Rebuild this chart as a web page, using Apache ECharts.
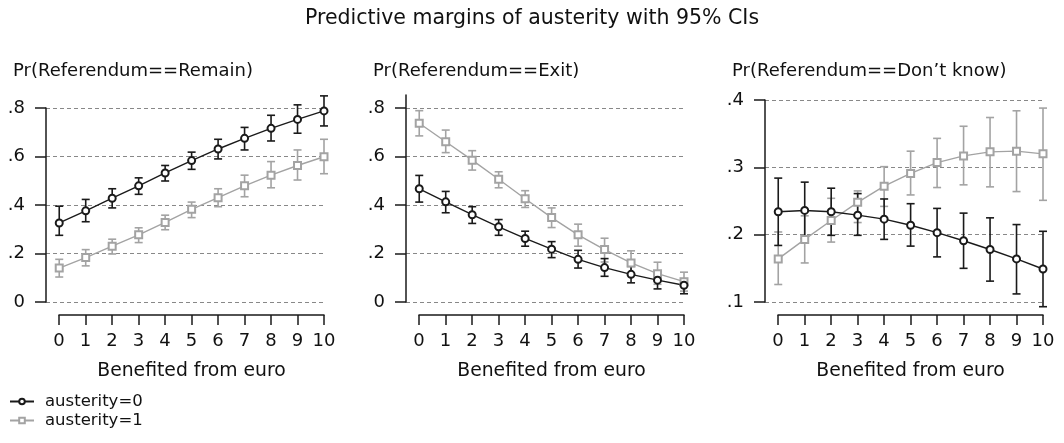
<!DOCTYPE html>
<html>
<head>
<meta charset="utf-8">
<script src="https://cdn.jsdelivr.net/npm/echarts@6/dist/echarts.min.js"></script>
<style>
  html, body { margin: 0; padding: 0; background: #fff; }
  #main { width: 1064px; height: 443px; }
</style>
</head>
<body>
<div id="main"></div>
<script>
var chartDom = document.getElementById('main');
var myChart = echarts.init(chartDom);
var option;

// x categories (Benefited from euro)
var xVals = [0, 1, 2, 3, 4, 5, 6, 7, 8, 9, 10];

// Pr(Referendum==Remain)
var remain0 = [0.326, 0.376, 0.428, 0.479, 0.532, 0.583, 0.631, 0.675, 0.716, 0.753, 0.788];
var remain0Lo = [0.275, 0.331, 0.388, 0.444, 0.499, 0.547, 0.590, 0.627, 0.664, 0.696, 0.726];
var remain0Hi = [0.395, 0.423, 0.467, 0.512, 0.563, 0.618, 0.671, 0.720, 0.770, 0.813, 0.850];
var remain1 = [0.140, 0.183, 0.230, 0.277, 0.328, 0.382, 0.430, 0.479, 0.523, 0.563, 0.599];
var remain1Lo = [0.103, 0.149, 0.198, 0.245, 0.298, 0.348, 0.393, 0.434, 0.471, 0.503, 0.529];
var remain1Hi = [0.176, 0.216, 0.259, 0.306, 0.358, 0.412, 0.467, 0.523, 0.579, 0.627, 0.671];

// Pr(Referendum==Exit)
var exit0 = [0.467, 0.413, 0.360, 0.310, 0.262, 0.218, 0.176, 0.142, 0.114, 0.090, 0.069];
var exit0Lo = [0.412, 0.368, 0.324, 0.275, 0.230, 0.183, 0.140, 0.106, 0.079, 0.054, 0.034];
var exit0Hi = [0.522, 0.456, 0.393, 0.340, 0.292, 0.249, 0.213, 0.179, 0.147, 0.124, 0.096];
var exit1 = [0.737, 0.661, 0.585, 0.506, 0.426, 0.348, 0.277, 0.216, 0.161, 0.117, 0.084];
var exit1Lo = [0.685, 0.616, 0.544, 0.471, 0.390, 0.307, 0.230, 0.165, 0.110, 0.073, 0.045];
var exit1Hi = [0.789, 0.709, 0.624, 0.537, 0.459, 0.388, 0.321, 0.263, 0.211, 0.164, 0.123];

// Pr(Referendum==Don't know)
var dk0 = [0.234, 0.236, 0.234, 0.229, 0.223, 0.214, 0.203, 0.191, 0.178, 0.164, 0.149];
var dk0Lo = [0.184, 0.194, 0.199, 0.199, 0.193, 0.183, 0.167, 0.150, 0.131, 0.112, 0.093];
var dk0Hi = [0.284, 0.278, 0.269, 0.261, 0.253, 0.246, 0.239, 0.232, 0.225, 0.215, 0.205];
var dk1 = [0.164, 0.193, 0.221, 0.248, 0.272, 0.291, 0.307, 0.317, 0.323, 0.324, 0.320];
var dk1Lo = [0.126, 0.158, 0.189, 0.218, 0.242, 0.259, 0.270, 0.274, 0.271, 0.264, 0.251];
var dk1Hi = [0.204, 0.228, 0.254, 0.265, 0.301, 0.324, 0.343, 0.361, 0.374, 0.384, 0.388];

var panelTitles = ['Pr(Referendum==Remain)', 'Pr(Referendum==Exit)', 'Pr(Referendum==Don\u2019t know)'];
var seriesNames = ['austerity=0', 'austerity=1'];
var yRanges = [[0, 0.8, 0.2], [0, 0.8, 0.2], [0.1, 0.4, 0.1]];

var FONT = 'DejaVu Sans';
var BLACK = '#1a1a1a';
var GRAY = '#a3a3a3';

var panelLeft = [46, 406, 765];
var panelTop = [108, 108, 100];

function pairs(ys) {
  return xVals.map(function (x, i) { return [x, ys[i]]; });
}
function ciRows(lo, hi) {
  return xVals.map(function (x, i) { return [x, lo[i], hi[i]]; });
}
function tickFmt(v) {
  if (Math.abs(v) < 1e-9) return '0';
  return String(+v.toFixed(2)).replace(/^0/, '');
}

// error bar with caps
function errRender(params, api) {
  var x = api.value(0);
  var lo = api.coord([x, api.value(1)]);
  var hi = api.coord([x, api.value(2)]);
  var w = 4;
  var style = { stroke: api.visual('color'), lineWidth: 1.6 };
  return {
    type: 'group',
    children: [
      { type: 'line', shape: { x1: lo[0], y1: lo[1], x2: hi[0], y2: hi[1] }, style: style },
      { type: 'line', shape: { x1: lo[0] - w, y1: lo[1], x2: lo[0] + w, y2: lo[1] }, style: style },
      { type: 'line', shape: { x1: hi[0] - w, y1: hi[1], x2: hi[0] + w, y2: hi[1] }, style: style }
    ]
  };
}

var grids = [];
var xAxes = [];
var yAxes = [];
var series = [];
var titles = [{
  text: 'Predictive margins of austerity with 95% CIs',
  left: 'center',
  top: 3,
  textStyle: { fontFamily: FONT, fontSize: 20.5, fontWeight: 'normal', color: '#111' }
}];

var panelData = [
  [[remain0, remain0Lo, remain0Hi], [remain1, remain1Lo, remain1Hi]],
  [[exit0, exit0Lo, exit0Hi], [exit1, exit1Lo, exit1Hi]],
  [[dk0, dk0Lo, dk0Hi], [dk1, dk1Lo, dk1Hi]]
];

// plot grids 0..2
for (var p = 0; p < 3; p++) {
  grids.push({ left: panelLeft[p], width: 278, top: panelTop[p], bottom: 141 });
  xAxes.push({ gridIndex: p, type: 'value', min: -0.5, max: 10, show: false });
  yAxes.push({
    gridIndex: p,
    type: 'value',
    min: yRanges[p][0],
    max: yRanges[p][1],
    interval: yRanges[p][2],
    axisLine: { show: p !== 1, onZero: false, lineStyle: { color: BLACK, width: 1.5 } },
    axisTick: { show: true, length: 11, lineStyle: { color: BLACK, width: 1.5 } },
    axisLabel: { margin: 21, formatter: tickFmt, fontFamily: FONT, fontSize: 18, color: '#111' },
    splitLine: { show: true, lineStyle: { color: '#888', type: [4, 3], width: 1 } }
  });
  titles.push({
    text: panelTitles[p],
    left: panelLeft[p] - 38,
    top: 57,
    textStyle: { fontFamily: FONT, fontSize: 18, fontWeight: 'normal', color: '#111' }
  });
}

// x-axis grids 3..5
for (var q = 0; q < 3; q++) {
  grids.push({ left: panelLeft[q] + 13, width: 265, bottom: 128, height: 10 });
  xAxes.push({
    gridIndex: 3 + q,
    type: 'value',
    min: 0,
    max: 10,
    interval: 1,
    name: 'Benefited from euro',
    nameLocation: 'middle',
    nameGap: 47,
    nameTextStyle: { fontFamily: FONT, fontSize: 18.8, color: '#111' },
    axisLine: { show: true, onZero: false, lineStyle: { color: BLACK, width: 1.5 } },
    axisTick: { show: true, length: 10, lineStyle: { color: BLACK, width: 1.5 } },
    axisLabel: { margin: 17, fontFamily: FONT, fontSize: 18, color: '#111' },
    splitLine: { show: false }
  });
  yAxes.push({ gridIndex: 3 + q, type: 'value', min: 0, max: 1, show: false });
}

// extended y axis line for the Exit panel (grid 6)
grids.push({ left: panelLeft[1], width: 278, top: 95, bottom: 141 });
xAxes.push({ gridIndex: 6, type: 'value', min: 0, max: 1, show: false });
yAxes.push({
  gridIndex: 6, type: 'value', min: 0, max: 1,
  axisLine: { show: true, onZero: false, lineStyle: { color: BLACK, width: 1.5 } },
  axisTick: { show: false }, axisLabel: { show: false }, splitLine: { show: false }
});

for (var k = 0; k < 3; k++) {
  [1, 0].forEach(function (s) {
    var d = panelData[k][s];
    var col = s === 0 ? BLACK : GRAY;
    series.push({
      type: 'custom',
      xAxisIndex: k,
      yAxisIndex: k,
      renderItem: errRender,
      clip: false,
      itemStyle: { color: col },
      data: ciRows(d[1], d[2]),
      z: 2
    });
    series.push({
      name: seriesNames[s],
      type: 'line',
      xAxisIndex: k,
      yAxisIndex: k,
      clip: false,
      symbol: s === 0 ? 'emptyCircle' : 'emptyRect',
      symbolSize: 7,
      color: col,
      lineStyle: { color: col, width: 1.4 },
      itemStyle: { color: col, borderWidth: 1.2 },
      data: pairs(d[0]),
      z: 3
    });
  });
}

option = {
  animation: false,
  backgroundColor: '#fff',
  title: titles,
  legend: {
    data: seriesNames,
    orient: 'vertical',
    left: 4,
    top: 388,
    itemWidth: 24,
    itemHeight: 7,
    itemGap: 2,
    textStyle: { fontFamily: FONT, fontSize: 16.5, color: '#111', padding: [0, 0, 0, 6] }
  },
  grid: grids,
  xAxis: xAxes,
  yAxis: yAxes,
  series: series
};

option && myChart.setOption(option);
</script>
</body>
</html>
